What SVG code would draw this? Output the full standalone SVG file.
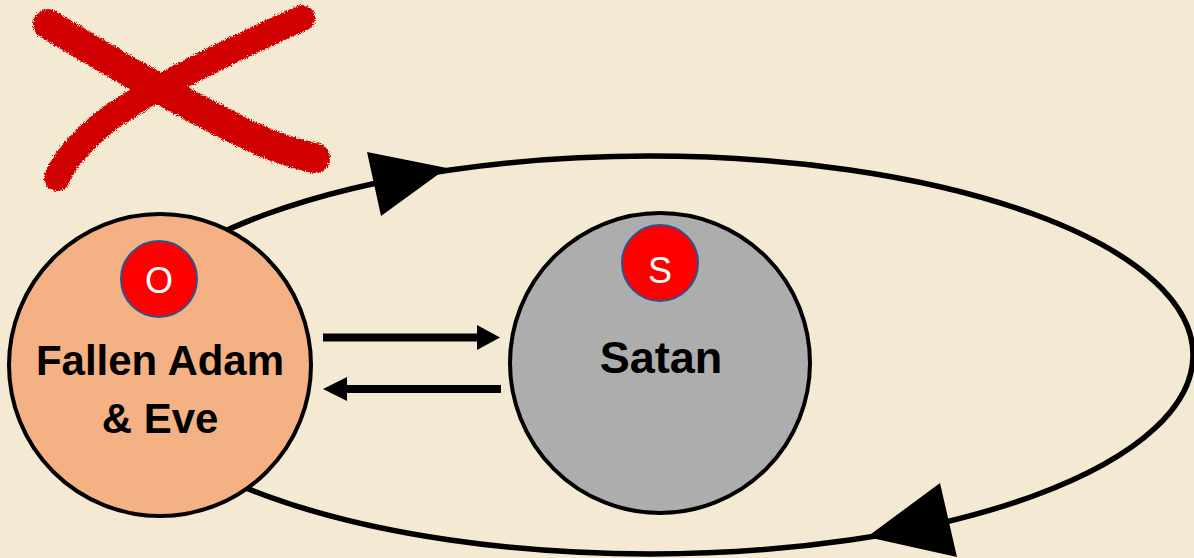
<svg xmlns="http://www.w3.org/2000/svg" width="1194" height="558" viewBox="0 0 1194 558">
<style>
.node{stroke:#000;stroke-width:4}
.badge{fill:#FF0000;stroke:#2F528F;stroke-width:2}
.badgeText{font-family:"Liberation Sans","Open Sans",sans-serif;font-size:36px;fill:#fff;text-anchor:middle}
.label{font-family:"Liberation Sans","Open Sans",sans-serif;font-size:42px;font-weight:bold;fill:#000;text-anchor:middle}
.conn{fill:none;stroke:#000}
.head{fill:#000}
.xmark{fill:none;stroke:#D10000;stroke-linecap:round}
</style>
<defs>
<filter id="rough" x="-10%" y="-10%" width="120%" height="120%">
<feTurbulence type="fractalNoise" baseFrequency="0.9" numOctaves="2" seed="3" result="n"/>
<feDisplacementMap in="SourceGraphic" in2="n" scale="6" xChannelSelector="R" yChannelSelector="G"/>
</filter>
</defs>
<rect width="1194" height="558" fill="#F4EAD3"/>
<g id="cross-mark" filter="url(#rough)">
<path class="xmark" d="M48,24 C120,68 200,112 250,136 C280,150 300,155 315,158" stroke-width="30"/>
<path class="xmark" d="M302,18 C220,55 150,90 110,118 C82,140 64,160 57,178" stroke-width="26"/>
</g>
<g id="connectors">
<ellipse class="conn" cx="650" cy="355" rx="543" ry="199" stroke-width="5.5"/>
<path class="head" d="M367,152 L447,168 L381,216 Z"/>
<path class="head" d="M940,483 L957,557 L867,537 Z"/>
<line class="conn" x1="323" y1="337.5" x2="480" y2="337.5" stroke-width="8"/>
<path class="head" d="M477,325 L500,337.5 L477,350 Z"/>
<line class="conn" x1="501" y1="389" x2="344" y2="389" stroke-width="8"/>
<path class="head" d="M347,377 L323,389 L347,401 Z"/>
</g>
<g id="fallen-adam-eve">
<circle class="node" cx="160" cy="365" r="151" fill="#F4B183"/>
<circle class="badge" cx="159" cy="279" r="38"/>
<text class="badgeText" x="159" y="293">O</text>
<text class="label" x="160" y="375">Fallen Adam</text>
<text class="label" x="160" y="433">&amp; Eve</text>
</g>
<g id="satan">
<circle class="node" cx="660" cy="363" r="150" fill="#ADADAD"/>
<circle class="badge" cx="660" cy="263" r="38"/>
<text class="badgeText" x="660" y="283">S</text>
<text class="label" x="661" y="373" style="font-size:45px">Satan</text>
</g>
</svg>
